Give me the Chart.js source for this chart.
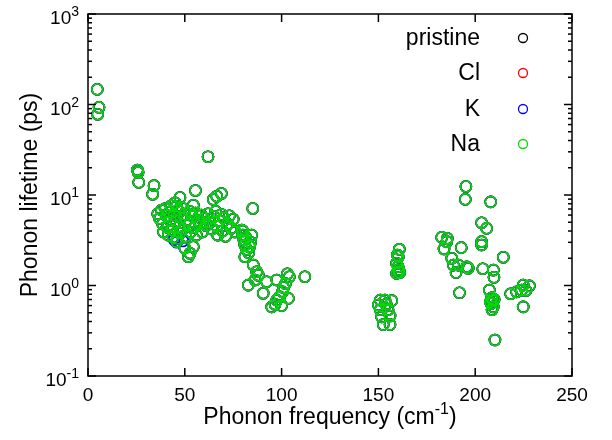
<!DOCTYPE html>
<html>
<head>
<meta charset="utf-8">
<script src="https://cdn.jsdelivr.net/npm/chart.js@4/dist/chart.umd.min.js"></script>
<style>
  html, body { margin: 0; padding: 0; background: #fff; }
  #wrap { width: 612px; height: 440px; }
</style>
</head>
<body>
<div id="wrap"><canvas id="myChart" width="612" height="440"></canvas></div>
<script>
// phonon frequencies (cm-1), shared by the series
const freq = [
  4.8, 5.7, 5.0,
  25.5, 25.9, 26.2, 34.1, 33.4, 62, 55.5, 47.5, 54.4, 45.8, 64.7, 66.5, 68.9, 85.1,
  36, 37, 38, 38.5, 39, 40, 40.5, 41, 41.5, 42, 42.5, 43, 43.5, 44, 44.5, 45, 45.5, 46, 46.5, 47,
  47.5, 48, 48.5, 49, 50, 50.5, 51, 52, 52.5, 53, 54, 55, 55.5, 56, 57, 58, 58.5, 59, 60, 61,
  62, 63, 64, 65, 66, 66.5, 67, 68, 69, 69.5, 70, 71, 72, 73, 74, 75, 76,
  51.8, 52.7, 54.4, 45.8, 50,
  79.4, 80, 80.5, 81, 81.5, 82, 83, 81, 84, 84.5, 85.4, 87.1, 86.3, 88, 82.8, 80, 83.5,
  90.5, 92.3, 94.9, 97.5, 97.5, 96.6, 99, 100.5, 101, 102, 103, 104, 103.5, 100, 112,
  160.8, 159.8, 160.3, 159.4, 160.2, 160.3, 161, 159.4, 160.6,
  151, 153.4, 156.9, 151, 155, 156, 151.7, 152.5, 156, 150, 154,
  195.2, 194.9, 208, 203.3, 205.9, 203.3, 203.3, 182.7, 185.6, 185.3, 183.9, 192.8, 214.5,
  187.9, 188.7, 191.3, 190.1, 195.6, 196.4, 203.9, 209.4, 209.7, 191.9, 207.3,
  208.5, 209, 208.2, 209.3, 208.7, 210.2, 224.8, 218.3, 221.4, 224, 226.2, 228, 224.8, 207.8, 209.8
]

// phonon lifetimes (ps)
const naLife = [
  147, 93, 78,
  18.9, 17.8, 13.8, 12.7, 10.2, 26.5, 11.2, 9.4, 7.7, 7.5, 8.95, 9.7, 10.4, 7.1,
  6.2, 5.5, 6.8, 4.8, 3.9, 7.1, 5.9, 4.4, 3.6, 6.5, 5.2, 7.6, 4.1, 3.4, 6.0, 8.2, 5.0, 3.3, 6.8, 4.5,
  3.8, 5.6, 7.2, 4.2, 6.1, 3.5, 5.3, 4.7, 6.6, 3.9, 5.8, 4.4, 6.3, 3.6, 5.2, 4.8, 6.0, 3.9, 5.5, 4.6,
  6.2, 5.0, 4.2, 5.8, 6.6, 4.5, 3.6, 5.2, 6.1, 4.0, 5.6, 3.5, 4.8, 5.9, 4.3, 5.4, 3.9,
  2.08, 2.27, 2.68, 3.05, 2.6,
  4.1, 3.6, 3.2, 2.8, 3.4, 2.5, 2.3, 2.08, 3.0, 3.6, 1.68, 1.42, 1.15, 1.3, 1.01, 4.0, 2.7,
  0.82, 1.1, 0.58, 0.69, 1.15, 0.62, 0.75, 0.85, 0.95, 1.05, 1.35, 1.25, 0.72, 0.6, 1.25,
  2.51, 2.17, 2.08, 1.76, 1.61, 1.42, 1.39, 1.36, 1.5,
  0.69, 0.69, 0.68, 0.54, 0.54, 0.46, 0.45, 0.37, 0.37, 0.61, 0.62,
  12.4, 8.95, 8.4, 4.94, 4.28, 3.05, 2.8, 3.4, 3.32, 3.05, 2.53, 2.62, 2.05,
  2.0, 1.68, 1.68, 1.39, 1.61, 1.55, 1.53, 1.48, 1.23, 0.83, 0.89,
  0.73, 0.68, 0.63, 0.58, 0.54, 0.25, 0.58, 0.81, 0.85, 0.89, 0.88, 0.99, 1.01, 0.66, 0.7
]
// the other systems sit almost exactly under the Na points
const pristineLife = naLife
const clLife = naLife
const kLife = naLife
// a few K points that peek out below the Na ones
const kExtraFreq = [45.8, 44.5, 49]
const kExtraLife = [3.0, 3.2, 3.1]

const seriesNames = ['pristine', 'Cl', 'K', 'Na']
const seriesColors = ['#000000', '#ff0000', '#0000ff', '#00dd00']

const xTicks = [0, 50, 100, 150, 200, 250]
const yDecades = [-1, 0, 1, 2, 3]

const FONT = '"Liberation Sans", Arial, Helvetica, sans-serif'

function toPoints(xs, ys) {
    let pts = []
    for (let i = 0; i < xs.length; i++) {
        pts.push({ x: xs[i], y: ys[i] })
    }
    return pts
}

function makeSet(i, pts) {
    return {
        label: seriesNames[i],
        data: pts,
        showLine: false,
        pointStyle: 'circle',
        pointRadius: 5.5,
        pointBorderWidth: 1.6,
        pointBackgroundColor: 'rgba(0,0,0,0)',
        pointBorderColor: seriesColors[i],
        order: 3 - i
    }
}

function line(ctx, x1, y1, x2, y2) {
    ctx.beginPath()
    ctx.moveTo(x1, y1)
    ctx.lineTo(x2, y2)
    ctx.stroke()
}

// gnuplot-like frame with inward ticks
const framePlugin = {
    id: 'frame',
    afterDatasetsDraw(chart) {
        const ctx = chart.ctx
        const a = chart.chartArea
        const xs = chart.scales.x
        const ys = chart.scales.y
        ctx.save()
        ctx.strokeStyle = '#000'
        ctx.lineWidth = 1.5
        ctx.strokeRect(a.left, a.top, a.right - a.left, a.bottom - a.top)

        xTicks.forEach(v => {
            const px = xs.getPixelForValue(v)
            line(ctx, px, a.bottom, px, a.bottom - 8)
            line(ctx, px, a.top, px, a.top + 8)
        })
        yDecades.forEach(d => {
            for (let m = 1; m <= 9; m++) {
                if (d == 3 && m > 1) break
                const py = ys.getPixelForValue(m * Math.pow(10, d))
                const len = m == 1 ? 8 : 4
                line(ctx, a.left, py, a.left + len, py)
                line(ctx, a.right, py, a.right - len, py)
            }
        })
        ctx.restore()
    },
    afterDraw(chart) {
        const ctx = chart.ctx
        const a = chart.chartArea
        const xs = chart.scales.x
        const ys = chart.scales.y
        ctx.save()
        ctx.fillStyle = '#000'

        // x tick labels
        ctx.font = '19px ' + FONT
        ctx.textAlign = 'center'
        ctx.textBaseline = 'alphabetic'
        xTicks.forEach(v => {
            ctx.fillText(String(v), xs.getPixelForValue(v), a.bottom + 25)
        })

        // y tick labels 10^n
        yDecades.forEach(d => {
            const py = ys.getPixelForValue(Math.pow(10, d))
            const sup = String(d)
            ctx.font = '14px ' + FONT
            const sw = ctx.measureText(sup).width
            ctx.textAlign = 'left'
            const right = a.left - 9
            ctx.fillText(sup, right - sw, py + 2)
            ctx.font = '19px ' + FONT
            ctx.textAlign = 'right'
            ctx.fillText('10', right - sw, py + 10)
        })

        // axis titles
        const t1 = 'Phonon frequency (cm'
        const t2 = ')'
        ctx.font = '16px ' + FONT
        const supW = ctx.measureText('-1').width
        ctx.font = '23px ' + FONT
        const w1 = ctx.measureText(t1).width
        const w2 = ctx.measureText(t2).width
        const total = w1 + supW + w2
        let sx = (a.left + a.right) / 2 - total / 2
        const by = a.bottom + 48
        ctx.textAlign = 'left'
        ctx.fillText(t1, sx, by)
        ctx.font = '16px ' + FONT
        ctx.fillText('-1', sx + w1, by - 10)
        ctx.font = '23px ' + FONT
        ctx.fillText(t2, sx + w1 + supW, by)

        ctx.save()
        ctx.translate(37, (a.top + a.bottom) / 2)
        ctx.rotate(-Math.PI / 2)
        ctx.textAlign = 'center'
        ctx.fillText('Phonon lifetime (ps)', 0, 0)
        ctx.restore()

        // key
        const keyY = [38, 73, 109, 144]
        seriesNames.forEach((name, i) => {
            ctx.font = '23px ' + FONT
            ctx.textAlign = 'right'
            ctx.textBaseline = 'middle'
            ctx.fillStyle = '#000'
            ctx.fillText(name, 480, keyY[i] + 1)
            ctx.beginPath()
            ctx.arc(523, keyY[i], 4.5, 0, Math.PI * 2)
            ctx.strokeStyle = seriesColors[i]
            ctx.lineWidth = 1.3
            ctx.stroke()
        })
        ctx.restore()
    }
}

const datasets = [
    makeSet(0, toPoints(freq, pristineLife)),
    makeSet(1, toPoints(freq, clLife)),
    makeSet(2, toPoints(freq.concat(kExtraFreq), kLife.concat(kExtraLife))),
    makeSet(3, toPoints(freq, naLife))
]

new Chart('myChart', {
    type: 'scatter',
    data: { datasets: datasets },
    options: {
        responsive: false,
        animation: false,
        layout: {
            autoPadding: false,
            padding: { left: 88, right: 40, top: 14, bottom: 64 }
        },
        plugins: {
            legend: { display: false },
            tooltip: { enabled: false }
        },
        scales: {
            x: { type: 'linear', min: 0, max: 250, display: false },
            y: { type: 'logarithmic', min: 0.1, max: 1000, display: false }
        }
    },
    plugins: [framePlugin]
})
</script>
</body>
</html>
